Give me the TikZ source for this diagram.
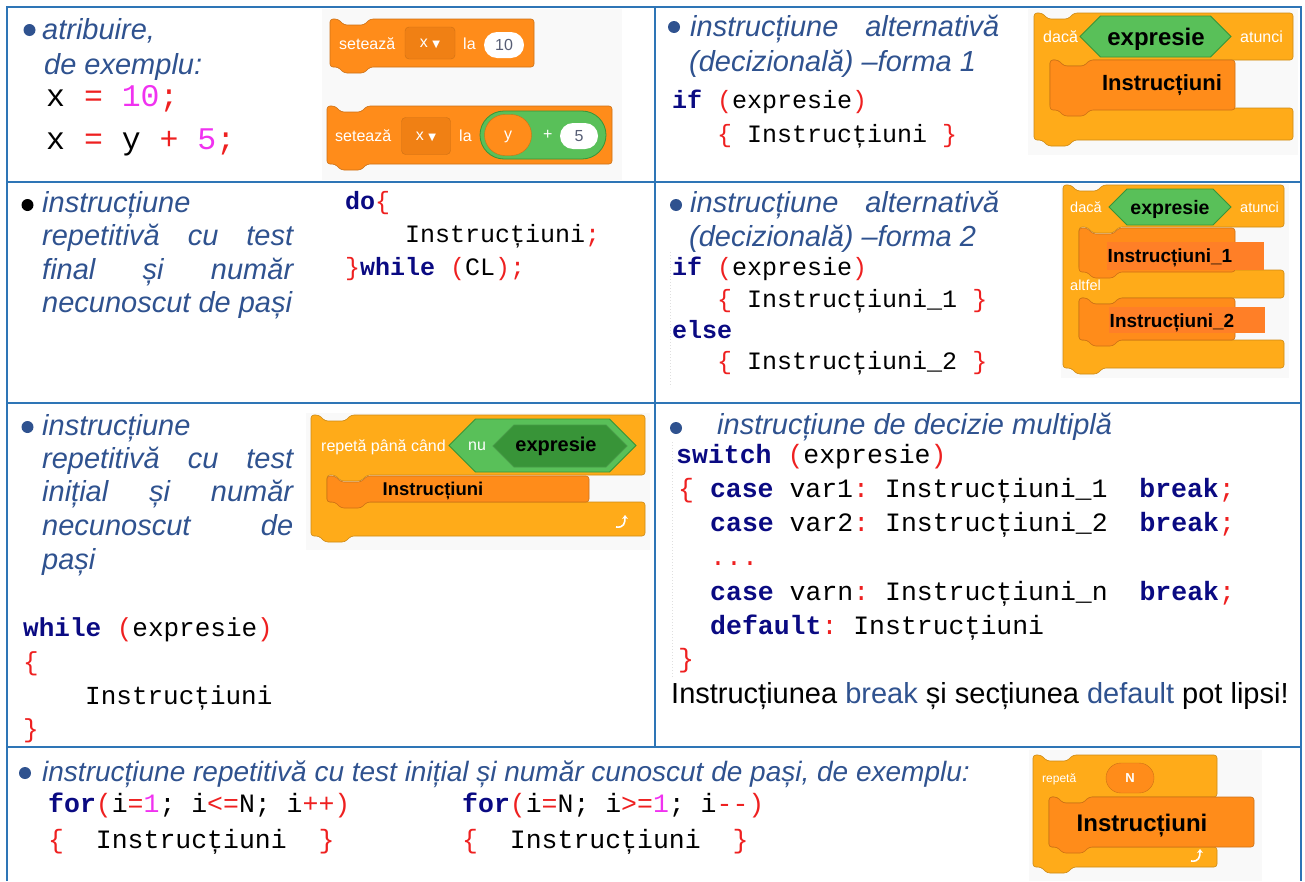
\documentclass[tikz,border=0pt]{standalone}
\usepackage{fontspec}
\setmainfont{Liberation Sans}
\newfontfamily\monofam{Liberation Mono}
\newfontfamily\symfam{DejaVu Sans}
\usetikzlibrary{shapes.misc, arrows.meta}
\frenchspacing

\definecolor{framecol}{RGB}{46,117,182}
\definecolor{descblue}{RGB}{47,82,143}
\definecolor{kwblue}{RGB}{10,10,130}
\definecolor{pnred}{RGB}{238,32,32}
\definecolor{nmmag}{RGB}{240,50,240}
\definecolor{ctrlyel}{RGB}{255,171,25}
\definecolor{varorange}{RGB}{255,140,26}
\definecolor{vardrop}{RGB}{240,128,20}
\definecolor{insorange}{RGB}{255,127,39}
\definecolor{opgreen}{RGB}{89,192,89}
\definecolor{opdark}{RGB}{56,148,56}
\definecolor{scratchbg}{RGB}{249,249,249}
\definecolor{scratchgray}{RGB}{87,94,117}

\newcommand{\descfont}{\fontsize{29}{34}\selectfont\itshape}
\newcommand{\codesize}[1]{\fontsize{#1}{#1}\selectfont\monofam}
\newcommand{\kw}[1]{\textcolor{kwblue}{\bfseries #1}}
\newcommand{\pn}[1]{\textcolor{pnred}{#1}}
\newcommand{\nm}[1]{\textcolor{nmmag}{#1}}

% stack block: x, y, width, height, colour
\newcommand{\stackblk}[5]{%
  \filldraw[fill=#5, draw=#5!80!black, line width=0.6pt, rounded corners=3pt]
    (#1,#2) -- (#1+8,#2) -- (#1+14,#2+6) -- (#1+34,#2+6) -- (#1+40,#2) -- (#1+#3,#2)
    -- (#1+#3,#2+#4) -- (#1+40,#2+#4) -- (#1+34,#2+#4+6) -- (#1+14,#2+#4+6) -- (#1+8,#2+#4)
    -- (#1,#2+#4) -- cycle;}

% C block: x, y, width, top arm, mouth, bottom arm, colour
\newcommand{\cblk}[7]{%
  \pgfmathsetmacro{\yA}{#2+#4}
  \pgfmathsetmacro{\yB}{\yA+#5}
  \pgfmathsetmacro{\yC}{\yB+#6}
  \filldraw[fill=#7, draw=#7!80!black, line width=0.6pt, rounded corners=3pt]
    (#1,#2) -- (#1+8,#2) -- (#1+14,#2+6) -- (#1+34,#2+6) -- (#1+40,#2) -- (#1+#3,#2)
    -- (#1+#3,\yA) -- (#1+56,\yA) -- (#1+50,\yA+6) -- (#1+30,\yA+6) -- (#1+24,\yA) -- (#1+16,\yA)
    -- (#1+16,\yB) -- (#1+#3,\yB) -- (#1+#3,\yC)
    -- (#1+40,\yC) -- (#1+34,\yC+6) -- (#1+14,\yC+6) -- (#1+8,\yC) -- (#1,\yC) -- cycle;}

% if-else block: x, y, width, top arm, mouth 1, middle arm, mouth 2, bottom arm, colour
\newcommand{\ifelseblk}[9]{%
  \pgfmathsetmacro{\yA}{#2+#4}
  \pgfmathsetmacro{\yB}{\yA+#5}
  \pgfmathsetmacro{\yC}{\yB+#6}
  \pgfmathsetmacro{\yD}{\yC+#7}
  \pgfmathsetmacro{\yE}{\yD+#8}
  \filldraw[fill=#9, draw=#9!80!black, line width=0.6pt, rounded corners=3pt]
    (#1,#2) -- (#1+8,#2) -- (#1+14,#2+6) -- (#1+34,#2+6) -- (#1+40,#2) -- (#1+#3,#2)
    -- (#1+#3,\yA) -- (#1+56,\yA) -- (#1+50,\yA+6) -- (#1+30,\yA+6) -- (#1+24,\yA) -- (#1+16,\yA)
    -- (#1+16,\yB) -- (#1+#3,\yB) -- (#1+#3,\yC)
    -- (#1+56,\yC) -- (#1+50,\yC+6) -- (#1+30,\yC+6) -- (#1+24,\yC) -- (#1+16,\yC)
    -- (#1+16,\yD) -- (#1+#3,\yD) -- (#1+#3,\yE)
    -- (#1+40,\yE) -- (#1+34,\yE+6) -- (#1+14,\yE+6) -- (#1+8,\yE) -- (#1,\yE) -- cycle;}

% boolean hexagon: x, y, width, height, fill, border
\newcommand{\hexblk}[6]{%
  \filldraw[fill=#5, draw=#6, line width=0.8pt]
    (#1,#2+#4/2) -- (#1+#4/2,#2) -- (#1+#3-#4/2,#2) -- (#1+#3,#2+#4/2)
    -- (#1+#3-#4/2,#2+#4) -- (#1+#4/2,#2+#4) -- cycle;}

% loop arrow of a repeat block
\newcommand{\looparr}[2]{%
  \draw[white, line width=1.6pt, -{Stealth[length=4pt,width=6pt]}]
    (#1-7,#2+6) .. controls (#1+1,#2+7) and (#1+2,#2+2) .. (#1+2,#2-6);}

\tikzset{
  frame/.style={draw=framecol, line width=2pt},
  desc/.style={anchor=base west, inner sep=0pt, text=descblue, font=\descfont},
  codeline/.style={anchor=base west, inner sep=0pt, font=\codesize{#1}},
  bdot/.style={circle, fill=#1, inner sep=0pt, minimum size=12pt},
  blabel/.style={anchor=west, inner sep=0pt, text depth=0pt, text=white, font=\fontsize{#1}{#1}\selectfont},
  inslabel/.style={inner sep=0pt, text depth=0pt, font=\fontsize{#1}{#1}\selectfont\bfseries},
  pill/.style={rounded rectangle, inner sep=0pt, text height=11pt, text depth=0pt, font=\fontsize{16}{16}\selectfont},
  dropbox/.style={rounded corners=4pt, fill=vardrop, draw=varorange!80!black, text=white,
    inner sep=0pt, text height=8pt, text depth=0pt, font=\fontsize{16}{16}\selectfont}
}

\begin{document}
\begin{tikzpicture}[x=1pt, y=-1pt]
  \useasboundingbox (0,0) rectangle (1305,881);

  % ---- atribuire
  \node[bdot=descblue] (bul1) at (29.5,30) {};
  \node[desc] (atrib) at (42,39) {atribuire,};
  \node[desc] (exemplu) at (44,74) {de exemplu:};
  \node[codeline=31.5] (xten) at (46,106) {x \pn{=} \nm{10}\pn{;}};
  \node[codeline=31.5] (xysum) at (46,149) {x \pn{=} y \pn{+} \nm{5}\pn{;}};

  \fill[scratchbg] (322,9) rectangle (622,180);
  \stackblk{330}{19}{204}{48}{varorange}
  \node[blabel=16] (set1) at (339,44) {setează};
  \node[dropbox, minimum width=50pt, minimum height=32pt] (drop1) at (430,43) {x {\symfam\fontsize{10}{10}\selectfont▼}};
  \node[blabel=16] (la1) at (463,44) {la};
  \node[pill, fill=white, minimum width=40pt, minimum height=26pt, text=scratchgray] (ten) at (504,45) {10};

  \stackblk{327}{106}{285}{58}{varorange}
  \node[blabel=16] (set2) at (335,136) {setează};
  \node[dropbox, minimum width=49pt, minimum height=37pt] (drop2) at (426,136) {x {\symfam\fontsize{10}{10}\selectfont▼}};
  \node[blabel=16] (la2) at (459,136) {la};
  \node[pill, fill=opgreen, draw=opdark, line width=0.8pt, minimum width=126pt, minimum height=48pt] (sum) at (543,135) {};
  \node[pill, fill=varorange, draw=varorange!80!black, minimum width=47pt, minimum height=41pt, text height=8pt, text=white] (yvar) at (508,135) {y};
  \node[blabel=16] (plus) at (543,135) {+};
  \node[pill, fill=white, minimum width=38pt, minimum height=26pt, text=scratchgray] (five) at (579,136) {5};

  % ---- alternativa forma 1
  \node[bdot=descblue] (bul2) at (674,27) {};
  \node[desc] (alt1a) at (690,36) {\makebox[309pt][s]{instrucțiune alternativă}};
  \node[desc] (alt1b) at (689,71) {(decizională) –forma 1};
  \node[codeline=25] (if1) at (672,108) {\kw{if} \pn{(}expresie\pn{)}};
  \node[codeline=25] (if1body) at (717,142) {\pn{\{} Instrucțiuni \pn{\}}};

  \fill[scratchbg] (1028,9) rectangle (1298,155);
  \cblk{1034}{13}{259}{47}{48}{32}{ctrlyel}
  \node[blabel=16] (daca1) at (1043,37) {dacă};
  \hexblk{1080}{16}{151}{41}{opgreen}{opdark}
  \node[inslabel=24] (expr1) at (1156,37) {expresie};
  \node[blabel=16] (atunci1) at (1240,37) {atunci};
  \stackblk{1050}{60}{185}{50}{varorange}
  \node[inslabel=22] (ins1) at (1162,83) {Instrucțiuni};

  % ---- repetitiva cu test final
  \node[bdot=black] (bul3) at (27.5,205) {};
  \node[desc] (rep1a) at (42,212) {instrucțiune};
  \node[desc] (rep1b) at (42,245) {\makebox[251pt][s]{repetitivă cu test}};
  \node[desc] (rep1c) at (42,279) {\makebox[251pt][s]{final și număr}};
  \node[desc] (rep1d) at (42,312) {necunoscut de pași};
  \node[codeline=25] (do) at (345,209) {\kw{do}\pn{\{}};
  \node[codeline=25] (dobody) at (405,242) {Instrucțiuni\pn{;}};
  \node[codeline=25] (dowhile) at (345,275) {\pn{\}}\kw{while} \pn{(}CL\pn{);}};

  % ---- alternativa forma 2
  \node[bdot=descblue] (bul4) at (676,205) {};
  \node[desc] (alt2a) at (690,212) {\makebox[309pt][s]{instrucțiune alternativă}};
  \node[desc] (alt2b) at (689,246) {(decizională) –forma 2};
  \draw[gray!25, dotted, line width=1pt] (670,252) -- (670,387);
  \node[codeline=25] (if2) at (672,275) {\kw{if} \pn{(}expresie\pn{)}};
  \node[codeline=25] (if2body) at (717,307) {\pn{\{} Instrucțiuni\_1 \pn{\}}};
  \node[codeline=25] (else) at (672,338) {\kw{else}};
  \node[codeline=25] (elsebody) at (717,369) {\pn{\{} Instrucțiuni\_2 \pn{\}}};

  \fill[scratchbg] (1061,184) rectangle (1289,378);
  \ifelseblk{1063}{185}{221}{42}{43}{28}{42}{28}{ctrlyel}
  \node[blabel=14.5] (daca2) at (1070,207) {dacă};
  \hexblk{1109}{189}{122}{36}{opgreen}{opdark}
  \node[inslabel=19.5] (expr2) at (1170,207) {expresie};
  \node[blabel=14.5] (atunci2) at (1240,207) {atunci};
  \stackblk{1079}{228}{156}{44}{varorange}
  \fill[insorange] (1107,242) rectangle (1264,270);
  \node[inslabel=19] (ins21) at (1170,256) {Instrucțiuni\_1};
  \node[blabel=14.5] (altfel) at (1070,285) {altfel};
  \stackblk{1079}{298}{156}{42}{varorange}
  \fill[insorange] (1109,307) rectangle (1265,333);
  \node[inslabel=19] (ins22) at (1172,321) {Instrucțiuni\_2};

  % ---- repetitiva cu test initial
  \node[bdot=descblue] (bul5) at (27.5,427) {};
  \node[desc] (rep2a) at (42,435) {instrucțiune};
  \node[desc] (rep2b) at (42,468) {\makebox[251pt][s]{repetitivă cu test}};
  \node[desc] (rep2c) at (42,501) {\makebox[251pt][s]{inițial și număr}};
  \node[desc] (rep2d) at (42,535) {\makebox[251pt][s]{necunoscut de}};
  \node[desc] (rep2e) at (42,569) {pași};

  \fill[scratchbg] (306,413) rectangle (650,550);
  \cblk{311}{415}{334}{60}{27}{34}{ctrlyel}
  \node[blabel=16] (pana) at (321,446) {repetă până când};
  \hexblk{449}{419}{187}{53}{opgreen}{opdark}
  \node[blabel=16] (nu) at (468,446) {nu};
  \hexblk{493}{425}{134}{42}{opdark}{opgreen!80!black}
  \node[inslabel=20] (expr3) at (556,444) {expresie};
  \stackblk{327}{476}{262}{26}{varorange}
  \node[inslabel=18.5] (ins3) at (433,489) {Instrucțiuni};
  \looparr{623}{521}

  \node[codeline=26] (wh) at (23,636) {\kw{while} \pn{(}expresie\pn{)}};
  \node[codeline=26] (whopen) at (23,670) {\pn{\{}};
  \node[codeline=26] (whbody) at (85,704) {Instrucțiuni};
  \node[codeline=26] (whclose) at (23,737) {\pn{\}}};

  % ---- decizie multipla
  \node[bdot=descblue] (bul6) at (676,428) {};
  \node[desc] (mult) at (717,434) {instrucțiune de decizie multiplă};
  \draw[gray!25, dotted, line width=1pt] (672,442) -- (672,677);
  \node[codeline=26.5] (sw) at (676,463) {\kw{switch} \pn{(}expresie\pn{)}};
  \node[codeline=26.5] (case1) at (678,497) {\pn{\{} \kw{case} var1\pn{:} Instrucțiuni\_1~~\kw{break}\pn{;}};
  \node[codeline=26.5] (case2) at (710,531) {\kw{case} var2\pn{:} Instrucțiuni\_2~~\kw{break}\pn{;}};
  \node[codeline=26.5] (dots) at (710,565) {\pn{...}};
  \node[codeline=26.5] (casen) at (710,600) {\kw{case} varn\pn{:} Instrucțiuni\_n~~\kw{break}\pn{;}};
  \node[codeline=26.5] (dflt) at (710,634) {\kw{default}\pn{:} Instrucțiuni};
  \node[codeline=26.5] (swclose) at (678,667) {\pn{\}}};
  \node[anchor=base west, inner sep=0pt, font=\fontsize{29}{34}\selectfont] (note) at (671,703)
    {Instrucțiunea \textcolor{descblue}{break} și secțiunea \textcolor{descblue}{default} pot lipsi!};

  % ---- repetitiva cu numar cunoscut de pasi
  \node[bdot=descblue] (bul7) at (25,773) {};
  \node[desc, font=\fontsize{28}{34}\selectfont\itshape] (forlbl) at (42,781)
    {instrucțiune repetitivă cu test inițial și număr cunoscut de pași, de exemplu:};
  \node[codeline=26.5] (forup) at (48,812) {\kw{for}\pn{(}i\pn{=}\nm{1}; i\pn{<=}N; i\pn{++)}};
  \node[codeline=26.5] (fordown) at (462,812) {\kw{for}\pn{(}i\pn{=}N; i\pn{>=}\nm{1}; i\pn{--)}};
  \node[codeline=26.5] (forupbody) at (48,848) {\pn{\{}~~Instrucțiuni~~\pn{\}}};
  \node[codeline=26.5] (fordownbody) at (462,848) {\pn{\{}~~Instrucțiuni~~\pn{\}}};

  \fill[scratchbg] (1029,750) rectangle (1262,881);
  \cblk{1033}{755}{184}{42}{50}{20}{ctrlyel}
  \node[blabel=12] (repeta) at (1042,778) {repetă};
  \node[pill, fill=varorange, draw=varorange!80!black, minimum width=48pt, minimum height=30pt, text height=9pt, text=white, font=\fontsize{13}{13}\selectfont\bfseries] (nval) at (1130,778) {N};
  \stackblk{1049}{797}{205}{50}{varorange}
  \node[inslabel=24] (ins4) at (1142,823) {Instrucțiuni};
  \looparr{1198}{855}

  % table frame
  \draw[frame] (6.5,881) -- (6.5,6.5) -- (1300.5,6.5) -- (1300.5,881);
  \draw[frame] (6.5,182) -- (1300.5,182);
  \draw[frame] (6.5,402.5) -- (1300.5,402.5);
  \draw[frame] (6.5,747) -- (1300.5,747);
  \draw[frame] (655,6.5) -- (655,747);
\end{tikzpicture}
\end{document}
